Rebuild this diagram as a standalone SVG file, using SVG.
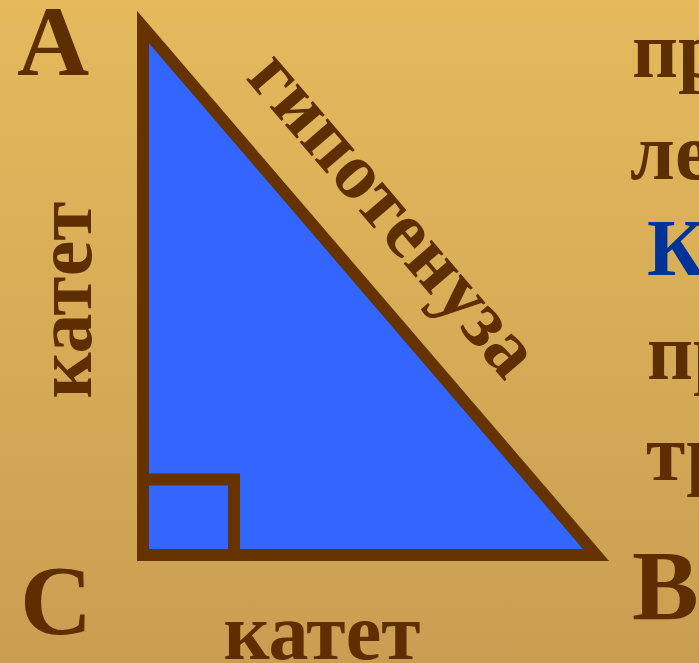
<svg xmlns="http://www.w3.org/2000/svg" width="699" height="663" viewBox="0 0 699 663">
  <defs>
    <linearGradient id="bg" x1="0" y1="0" x2="0" y2="1">
      <stop offset="0" stop-color="#E5B95C"/>
      <stop offset="1" stop-color="#C89F52"/>
    </linearGradient>
  </defs>
  <style>
    .t { font-family: "Liberation Serif", "Times New Roman", serif; font-weight: bold; fill: #5C2E00; }
    .big { font-size: 100px; }
    .mid { font-size: 80px; }
    .blue { fill: #003399; }
    .edge { stroke: #663300; stroke-width: 12; stroke-linejoin: miter; }
  </style>
  <rect x="0" y="0" width="699" height="663" fill="url(#bg)"/>
  <g id="triangle">
    <polygon class="edge" points="143,27 143,555 596,555" fill="#3366FF"/>
    <polyline class="edge" points="143,479.5 234,479.5 234,555" fill="none"/>
  </g>
  <g id="vertex-A"><text class="t big" x="17" y="75">A</text></g>
  <g id="vertex-C"><text class="t big" x="20" y="634">C</text></g>
  <g id="vertex-B"><text class="t big" x="632" y="619">B</text></g>
  <g id="label-leg-left"><text class="t mid" text-anchor="middle" transform="translate(91,300) rotate(-90)">катет</text></g>
  <g id="label-leg-bottom"><text class="t mid" text-anchor="middle" x="322" y="659">катет</text></g>
  <g id="label-hypotenuse"><text class="t mid" text-anchor="middle" transform="translate(375,230) rotate(49.4)">гипотенуза</text></g>
  <g id="side-text">
    <text class="t mid" x="632" y="77">пр</text>
    <text class="t mid" x="630" y="179">ле</text>
    <text class="t mid blue" x="647" y="275">К</text>
    <text class="t mid" x="647" y="379">пр</text>
    <text class="t mid" x="646" y="480">тр</text>
  </g>
</svg>
